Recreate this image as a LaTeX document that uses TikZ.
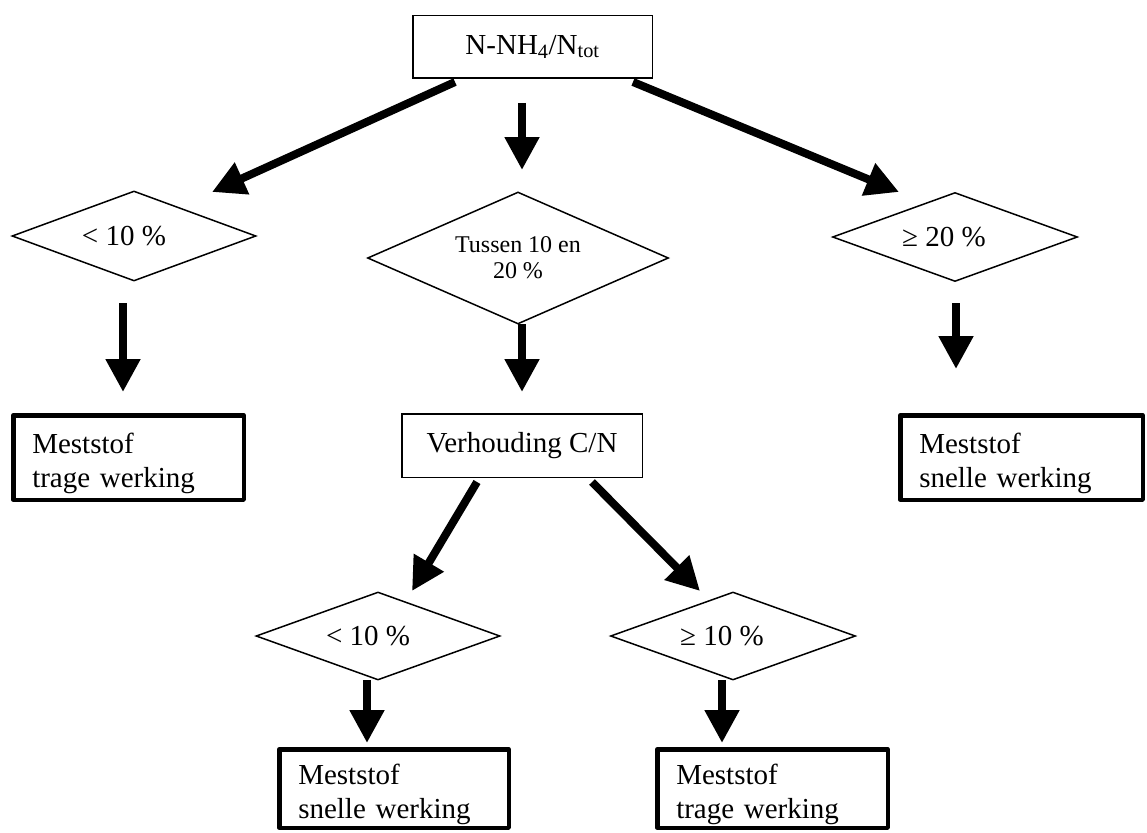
\documentclass[tikz,border=0pt]{standalone}
\usepackage{fontspec}
\setmainfont{Liberation Serif}
\usetikzlibrary{arrows.meta,shapes.geometric}
\newcommand\mystrut{\rule{0pt}{31.5pt}}
\begin{document}
\begin{tikzpicture}[x=1pt,y=-1pt,
  every node/.style={font=\fontsize{29pt}{34pt}\selectfont},
  thinbox/.style={draw, line width=1.5pt, inner sep=0pt},
  thickbox/.style={draw, line width=4.5pt, line join=round, inner xsep=19pt, inner ysep=0pt, align=left},
  cond/.style={draw, diamond, line width=1.5pt, inner sep=0pt, aspect=2.7},
  flow/.style={line width=8pt, -{Triangle[width=33pt,length=33pt]}},
]
\useasboundingbox (0,0) rectangle (1147,832);

% nodes
\node[thinbox, minimum width=239.5pt, minimum height=62.5pt] (top) at (532.5,47) {N-NH\textsubscript{4}/N\textsubscript{tot}};

\node[cond, minimum width=244pt, minimum height=90pt] (lt) at (134,236) {\hspace*{-20pt}< 10 \%};
\node[cond, minimum width=301pt, minimum height=132pt, align=center, font=\fontsize{24pt}{26pt}\selectfont] (mid) at (518,258) {Tussen 10 en\\20 \%};
\node[cond, minimum width=245pt, minimum height=89pt] (rt) at (955,237) {\hspace*{-22pt}≥ 20 \%};

\node[thickbox, minimum height=84.5pt, text width=192.5pt] (lbox) at (128.5,457.5) {\mystrut Meststof\\trage werking};
\node[thinbox, minimum width=240.5pt, minimum height=63.5pt] (ratio) at (522,445.5) {Verhouding C/N};
\node[thickbox, minimum height=84.5pt, text width=204.5pt] (rbox) at (1021.5,457.5) {\mystrut Meststof\\snelle werking};

\node[cond, minimum width=244pt, minimum height=88pt] (bl) at (378,636) {\hspace*{-20pt}< 10 \%};
\node[cond, minimum width=245pt, minimum height=88pt] (br) at (733,636) {\hspace*{-22pt}≥ 10 \%};

\node[thickbox, minimum height=78.5pt, text width=191.5pt] (blbox) at (394,788.5) {\mystrut Meststof\\snelle werking};
\node[thickbox, minimum height=78.5pt, text width=192.5pt] (brbox) at (772.5,788.5) {\mystrut Meststof\\trage werking};

% arrow end points
\coordinate (a1s) at (455,82);  \coordinate (a1e) at (212,192);
\coordinate (a2s) at (522,103); \coordinate (a2e) at (522,170);
\coordinate (a3s) at (633,82);  \coordinate (a3e) at (899,192);
\coordinate (a4s) at (123,303); \coordinate (a4e) at (123,392);
\coordinate (a5s) at (522,324); \coordinate (a5e) at (522,392);
\coordinate (a6s) at (956,303); \coordinate (a6e) at (956,369);
\coordinate (a7s) at (477,482); \coordinate (a7e) at (412,591);
\coordinate (a8s) at (592,482); \coordinate (a8e) at (700,591);
\coordinate (a9s) at (367,680); \coordinate (a9e) at (367,743);
\coordinate (a10s) at (722,680); \coordinate (a10e) at (722,743);

\draw[flow] (a1s) -- (a1e);
\draw[flow] (a2s) -- (a2e);
\draw[flow] (a3s) -- (a3e);
\draw[flow] (a4s) -- (a4e);
\draw[flow] (a5s) -- (a5e);
\draw[flow] (a6s) -- (a6e);
\draw[flow] (a7s) -- (a7e);
\draw[flow] (a8s) -- (a8e);
\draw[flow] (a9s) -- (a9e);
\draw[flow] (a10s) -- (a10e);
\end{tikzpicture}
\end{document}
